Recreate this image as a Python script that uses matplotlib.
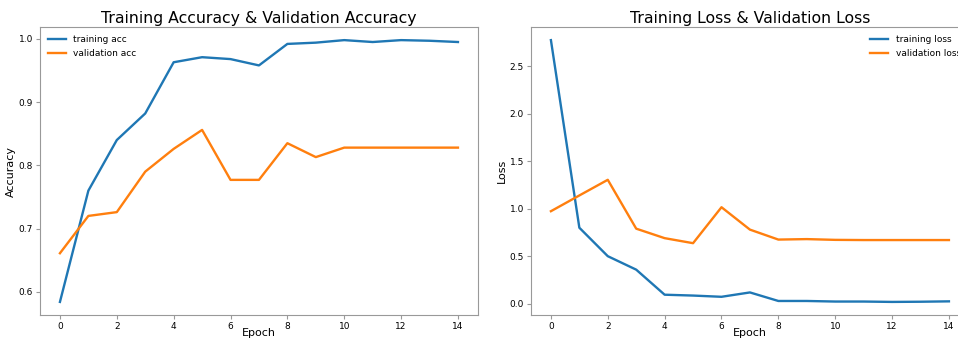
import matplotlib
matplotlib.use('Agg')
import matplotlib.pyplot as plt

epochs = list(range(15))

train_acc = [0.584, 0.760, 0.840, 0.882, 0.963, 0.971, 0.968, 0.958, 0.992, 0.994, 0.998, 0.995, 0.998, 0.997, 0.995]
val_acc = [0.661, 0.720, 0.726, 0.790, 0.826, 0.856, 0.777, 0.777, 0.835, 0.813, 0.828, 0.828, 0.828, 0.828, 0.828]

train_loss = [2.777, 0.800, 0.500, 0.358, 0.094, 0.085, 0.072, 0.118, 0.028, 0.028, 0.022, 0.022, 0.018, 0.020, 0.024]
val_loss = [0.974, 1.140, 1.305, 0.790, 0.690, 0.637, 1.016, 0.780, 0.675, 0.680, 0.672, 0.670, 0.670, 0.670, 0.670]

fig = plt.figure(figsize=(9.58, 3.40), dpi=100)
ax1 = fig.add_axes([0.0418, 0.0735, 0.457, 0.847])
ax2 = fig.add_axes([0.5543, 0.0735, 0.457, 0.847])

ax1.plot(epochs, train_acc, color='#1f77b4', lw=1.7, label='training acc')
ax1.plot(epochs, val_acc, color='#ff7f0e', lw=1.7, label='validation acc')
ax1.set_title('Training Accuracy & Validation Accuracy', fontsize=11.3, pad=3)
ax1.set_xlabel('Epoch', fontsize=8, labelpad=-2)
ax1.set_ylabel('Accuracy', fontsize=8, labelpad=2)
ax1.legend(loc='upper left', fontsize=6.5, frameon=False)

ax2.plot(epochs, train_loss, color='#1f77b4', lw=1.7, label='training loss')
ax2.plot(epochs, val_loss, color='#ff7f0e', lw=1.7, label='validation loss')
ax2.set_title('Training Loss & Validation Loss', fontsize=11.3, pad=3)
ax2.set_xlabel('Epoch', fontsize=8, labelpad=-2)
ax2.set_ylabel('Loss', fontsize=8, labelpad=2)
ax2.legend(loc='upper right', fontsize=6.5, frameon=False)

for ax in (ax1, ax2):
    ax.set_xticks(range(0, 15, 2))
    ax.tick_params(labelsize=6.5, length=3, color='#999999', pad=2)
    for s in ax.spines.values():
        s.set_color('#999999')

fig.savefig('out.png', dpi=100)
